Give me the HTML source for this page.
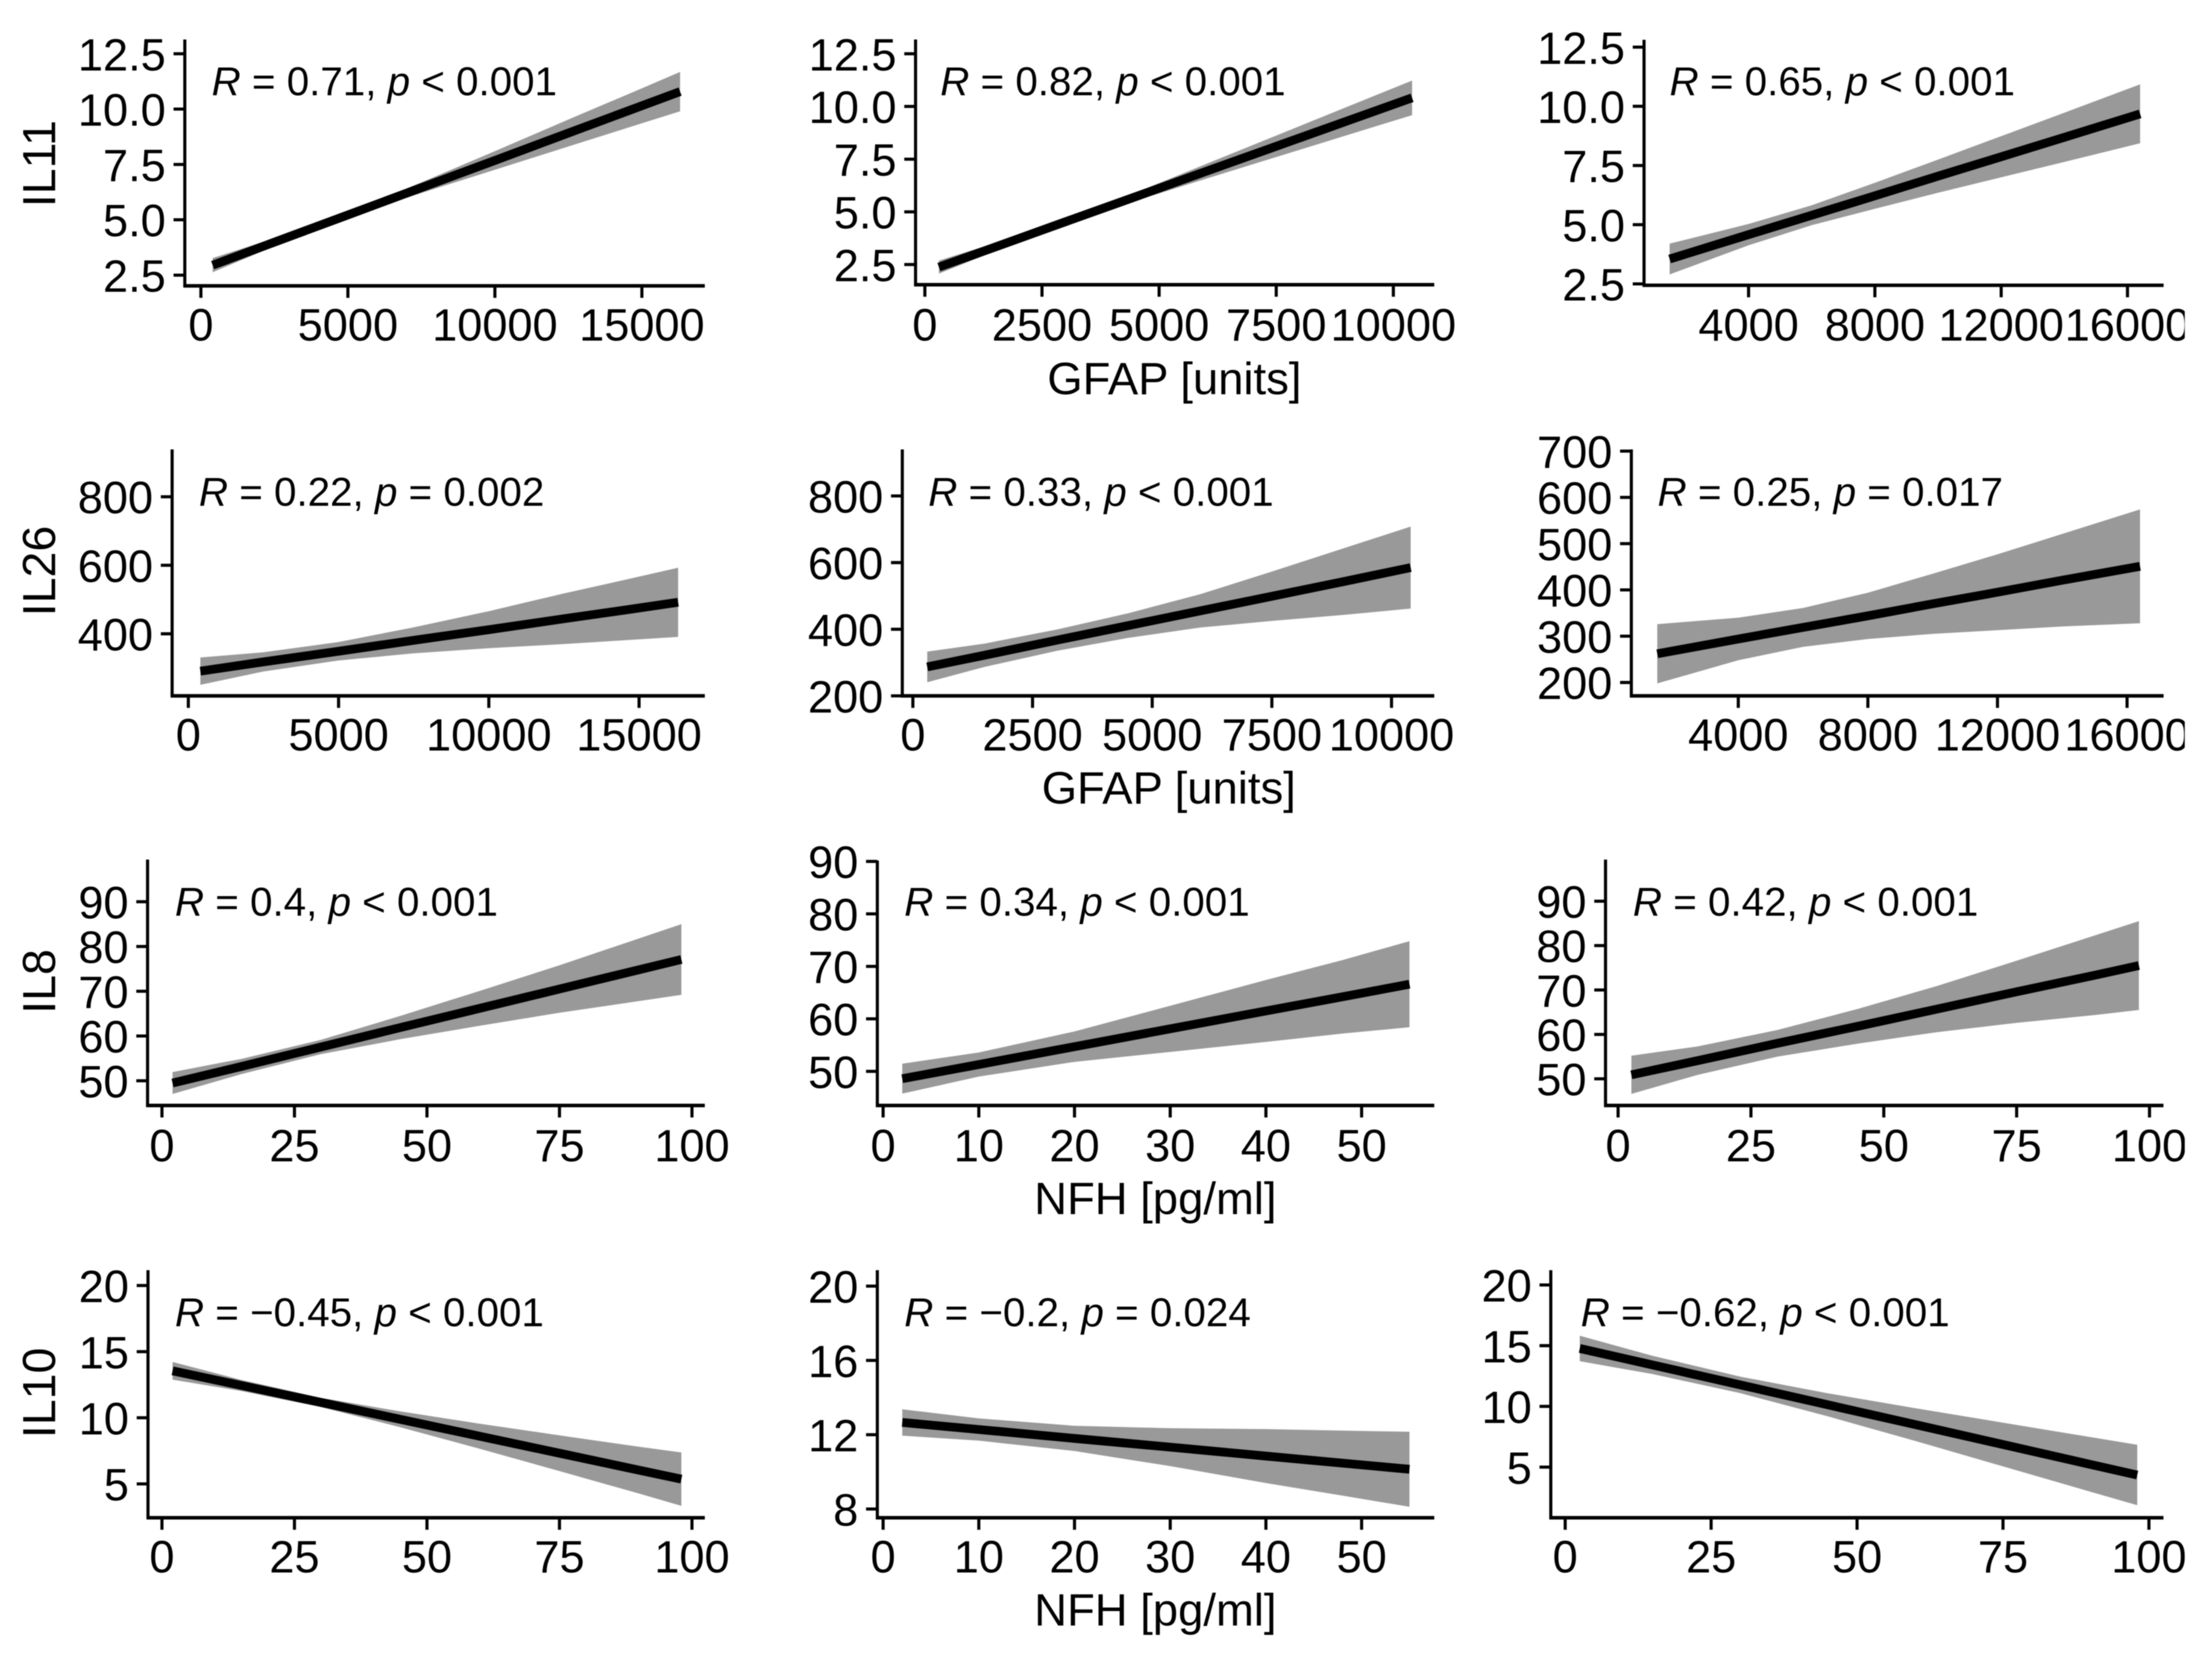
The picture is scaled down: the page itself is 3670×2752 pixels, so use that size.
<!DOCTYPE html>
<html lang="en">
<head>
<meta charset="utf-8">
<title>Correlation of interleukins with GFAP and NFH</title>
<style>
html,body{margin:0;padding:0;background:#fff;}
svg{display:block;width:3670px;height:2752px;filter:blur(0.8px);}
text{font-family:"Liberation Sans",Arial,sans-serif;fill:#000;}
</style>
</head>
<body>
<svg id="chart" xmlns="http://www.w3.org/2000/svg" viewBox="0 0 1568 1175.8"></svg>
<script>
/* ---------- data ---------- */
const p1XTicks=[0,5000,10000,15000];
const p1YTicks=[2.5,5,7.5,10,12.5];
const p1X=[400,2500,5000,7500,10000,12500,15000,16300];
const p1Fit=[2.95,3.99,5.22,6.45,7.68,8.92,10.15,10.79];
const p1Lo=[2.63,3.81,5.12,6.21,7.26,8.31,9.36,9.90];
const p1Hi=[3.27,4.17,5.32,6.69,8.10,9.53,10.94,11.68];

const p2XTicks=[0,2500,5000,7500,10000];
const p2YTicks=[2.5,5,7.5,10,12.5];
const p2X=[300,1500,3000,4500,6000,7500,9000,10400];
const p2Fit=[2.38,3.33,4.53,5.72,6.92,8.11,9.30,10.41];
const p2Lo=[2.07,3.14,4.43,5.53,6.57,7.60,8.63,9.59];
const p2Hi=[2.69,3.52,4.63,5.91,7.27,8.62,9.97,11.23];

const p3XTicks=[4000,8000,12000,16000];
const p3YTicks=[2.5,5,7.5,10,12.5];
const p3X=[1500,4000,6000,8000,10000,12000,14000,16400];
const p3Fit=[3.55,4.58,5.40,6.22,7.05,7.87,8.69,9.68];
const p3Lo=[2.90,4.13,4.98,5.67,6.35,7.00,7.65,8.44];
const p3Hi=[4.20,5.03,5.82,6.77,7.75,8.74,9.73,10.93];

const p4XTicks=[0,5000,10000,15000];
const p4YTicks=[400,600,800];
const p4X=[400,2500,5000,7500,10000,12500,14500,16300];
const p4Fit=[291,318,349,381,412,444,469,492];
const p4Lo=[251,290,322,343,358,370,381,391];
const p4Hi=[331,346,376,419,466,518,557,593];

const p5XTicks=[0,2500,5000,7500,10000];
const p5YTicks=[200,400,600,800];
const p5X=[300,1500,3000,4500,6000,7500,9000,10400];
const p5Fit=[287,322,367,411,455,499,543,585];
const p5Lo=[241,287,335,374,405,425,443,462];
const p5Hi=[333,357,399,448,505,573,643,708];

const p6XTicks=[4000,8000,12000,16000];
const p6YTicks=[200,300,400,500,600,700];
const p6X=[1500,4000,6000,8000,10000,12000,14000,16400];
const p6Fit=[262,294,319,344,370,395,421,451];
const p6Lo=[198,248,277,294,305,313,321,328];
const p6Hi=[326,340,361,394,435,477,521,574];

const p7XTicks=[0,25,50,75,100];
const p7YTicks=[50,60,70,80,90];
const p7X=[2,15,30,45,60,75,90,98];
const p7Fit=[49.5,53.2,57.55,61.9,66.2,70.5,74.8,77.1];
const p7Lo=[47.05,51.5,55.95,59.3,62.3,65.2,67.8,69.2];
const p7Hi=[51.95,54.9,59.15,64.5,70.1,75.8,81.8,85.0];

const p8XTicks=[0,10,20,30,40,50];
const p8YTicks=[50,60,70,80,90];
const p8X=[2,10,20,30,40,48,55];
const p8Fit=[48.6,51.3,54.7,58.1,61.5,64.2,66.6];
const p8Lo=[45.75,49.0,51.8,53.7,55.6,57.2,58.4];
const p8Hi=[51.45,53.6,57.6,62.5,67.4,71.2,74.8];

const p9XTicks=[0,25,50,75,100];
const p9YTicks=[50,60,70,80,90];
const p9X=[2.5,15,30,45,60,75,90,98];
const p9Fit=[50.9,54.1,58.0,61.8,65.7,69.6,73.4,75.5];
const p9Lo=[46.6,50.9,55,57.9,60.5,62.6,64.4,65.5];
const p9Hi=[55.2,57.3,61,65.7,70.9,76.6,82.4,85.5];

const p10XTicks=[0,25,50,75,100];
const p10YTicks=[5,10,15,20];
const p10X=[2,15,30,45,60,75,90,98];
const p10Fit=[13.55,12.44,11.16,9.88,8.60,7.32,6.04,5.36];
const p10Lo=[12.88,12.02,10.81,9.28,7.65,5.97,4.27,3.34];
const p10Hi=[14.22,12.86,11.51,10.48,9.55,8.67,7.81,7.38];

const p11XTicks=[0,10,20,30,40,50];
const p11YTicks=[8,12,16,20];
const p11X=[2,10,20,30,40,48,55];
const p11Fit=[12.66,12.28,11.80,11.33,10.85,10.47,10.14];
const p11Lo=[11.95,11.68,11.12,10.31,9.4,8.72,8.12];
const p11Hi=[13.37,12.88,12.48,12.35,12.3,12.22,12.16];

const p12XTicks=[0,25,50,75,100];
const p12YTicks=[5,10,15,20];
const p12X=[2.5,15,30,45,60,75,90,98];
const p12Fit=[14.77,13.41,11.77,10.13,8.50,6.86,5.22,4.35];
const p12Lo=[13.72,12.66,11.09,9.18,7.15,5.06,2.97,1.86];
const p12Hi=[15.82,14.16,12.45,11.08,9.85,8.66,7.47,6.84];

/* ---------- layout of each panel ---------- */
const panels=[
{id:'il11-gfap-a',xT:p1XTicks,yT:p1YTicks,x:p1X,fit:p1Fit,lo:p1Lo,hi:p1Hi,dec:1,axisX:131,right:499.6,top:28,bottom:202.6,xa:142.4,xb:455,ya:195,yb:38.1,r:'0.71',op:'<',pv:'0.001',ax:150,ay:67.5,lab:241.5},
{id:'il11-gfap-b',xT:p2XTicks,yT:p2YTicks,x:p2X,fit:p2Fit,lo:p2Lo,hi:p2Hi,dec:1,axisX:649,right:1016.7,top:28,bottom:201.8,xa:655.6,xb:987.7,ya:187.5,yb:38.1,r:'0.82',op:'<',pv:'0.001',ax:666.5,ay:67.5,lab:241.5},
{id:'il11-gfap-c',xT:p3XTicks,yT:p3YTicks,x:p3X,fit:p3Fit,lo:p3Lo,hi:p3Hi,dec:1,axisX:1165.4,right:1533.7,top:28.2,bottom:202.2,xa:1239.5,xb:1508.1,ya:201.2,yb:33.4,r:'0.65',op:'<',pv:'0.001',ax:1183.5,ay:67.5,lab:241.5},
{id:'il26-gfap-a',xT:p4XTicks,yT:p4YTicks,x:p4X,fit:p4Fit,lo:p4Lo,hi:p4Hi,dec:0,axisX:122,right:499.6,top:318.5,bottom:493.2,xa:133.5,xb:453,ya:449.2,yb:352.1,r:'0.22',op:'=',pv:'0.002',ax:141,ay:358.5,lab:532},
{id:'il26-gfap-b',xT:p5XTicks,yT:p5YTicks,x:p5X,fit:p5Fit,lo:p5Lo,hi:p5Hi,dec:0,axisX:639.6,right:1016.7,top:318.5,bottom:493.2,xa:647.1,xb:986.4,ya:493.2,yb:351.5,r:'0.33',op:'<',pv:'0.001',ax:658,ay:358.5,lab:532},
{id:'il26-gfap-c',xT:p6XTicks,yT:p6YTicks,x:p6X,fit:p6Fit,lo:p6Lo,hi:p6Hi,dec:0,axisX:1156.4,right:1533.7,top:318.5,bottom:493.2,xa:1232.2,xb:1507.8,ya:483.7,yb:319.7,r:'0.25',op:'=',pv:'0.017',ax:1175,ay:358.5,lab:532},
{id:'il8-nfh-a',xT:p7XTicks,yT:p7YTicks,x:p7X,fit:p7Fit,lo:p7Lo,hi:p7Hi,dec:0,axisX:104.6,right:499.6,top:609.2,bottom:783.5,xa:114.8,xb:490.5,ya:766,yb:639.1,r:'0.4',op:'<',pv:'0.001',ax:124,ay:649,lab:823},
{id:'il8-nfh-b',xT:p8XTicks,yT:p8YTicks,x:p8X,fit:p8Fit,lo:p8Lo,hi:p8Hi,dec:0,axisX:621.9,right:1016.7,top:609.9,bottom:783.5,xa:626,xb:965.2,ya:759.3,yb:610.5,r:'0.34',op:'<',pv:'0.001',ax:641,ay:649,lab:823},
{id:'il8-nfh-c',xT:p9XTicks,yT:p9YTicks,x:p9X,fit:p9Fit,lo:p9Lo,hi:p9Hi,dec:0,axisX:1138.1,right:1533.6,top:609.2,bottom:783.5,xa:1147,xb:1523.7,ya:764.6,yb:638.7,r:'0.42',op:'<',pv:'0.001',ax:1157.5,ay:649,lab:823},
{id:'il10-nfh-a',xT:p10XTicks,yT:p10YTicks,x:p10X,fit:p10Fit,lo:p10Lo,hi:p10Hi,dec:0,axisX:104.9,right:499.6,top:900.2,bottom:1075.7,xa:114.8,xb:490.5,ya:1051.7,yb:911.1,r:'\u22120.45',op:'<',pv:'0.001',ax:124,ay:940,lab:1114.5},
{id:'il10-nfh-b',xT:p11XTicks,yT:p11YTicks,x:p11X,fit:p11Fit,lo:p11Lo,hi:p11Hi,dec:0,axisX:621.9,right:1016.7,top:900.2,bottom:1075.7,xa:626,xb:965.2,ya:1069.5,yb:911.5,r:'\u22120.2',op:'=',pv:'0.024',ax:641,ay:940,lab:1114.5},
{id:'il10-nfh-c',xT:p12XTicks,yT:p12YTicks,x:p12X,fit:p12Fit,lo:p12Lo,hi:p12Hi,dec:0,axisX:1099.3,right:1533.6,top:900.2,bottom:1075.7,xa:1109.5,xb:1523.3,ya:1039.8,yb:910.7,r:'\u22120.62',op:'<',pv:'0.001',ax:1120.5,ay:940,lab:1114.5}
];
const yTitles=[{t:'IL11',y:116},{t:'IL26',y:404.7},{t:'IL8',y:695.6},{t:'IL10',y:987.2}];
const xTitles=[{t:'GFAP [units]',x:832.5,y:279.5},{t:'GFAP [units]',x:828.5,y:569.5},{t:'NFH [pg/ml]',x:819,y:860.5},{t:'NFH [pg/ml]',x:819,y:1152}];

const NS='http://www.w3.org/2000/svg';
const svg=document.getElementById('chart');
function mk(tag,parent,attrs,text){
  const e=document.createElementNS(NS,tag);
  for(const k in attrs)e.setAttribute(k,attrs[k]);
  if(text!==undefined)e.textContent=text;
  parent.appendChild(e);
  return e;
}
function linear(d0,d1,r0,r1){return v=>r0+(v-d0)*(r1-r0)/(d1-d0);}

panels.forEach(p=>{
  const g=mk('g',svg,{});
  
  
  const sx=linear(p.xT[0],p.xT[p.xT.length-1],p.xa,p.xb);
  const sy=linear(p.yT[0],p.yT[p.yT.length-1],p.ya,p.yb);

  const upper=p.x.map((v,i)=>sx(v).toFixed(2)+','+sy(p.hi[i]).toFixed(2));
  const lower=p.x.map((v,i)=>sx(v).toFixed(2)+','+sy(p.lo[i]).toFixed(2)).reverse();
  const band=mk('polygon',g,{points:upper.concat(lower).join(' '),fill:'#999999'});
  
  

  const fit=mk('polyline',g,{points:p.x.map((v,i)=>sx(v).toFixed(2)+','+sy(p.fit[i]).toFixed(2)).join(' '),fill:'none',stroke:'#000','stroke-width':6.2,'stroke-linejoin':'round'});
  
  

  const ya=mk('line',g,{x1:p.axisX,x2:p.axisX,y1:p.top,y2:p.bottom+1,stroke:'#000','stroke-width':2.2});
  
  
  const xa=mk('line',g,{x1:p.axisX-1,x2:p.right,y1:p.bottom,y2:p.bottom,stroke:'#000','stroke-width':2.5});
  
  

  p.yT.forEach(v=>{
    const y=sy(v);
    const t=mk('line',g,{x1:p.axisX-8,x2:p.axisX,y1:y,y2:y,stroke:'#000','stroke-width':2.2});
    
    
    const l=mk('text',g,{x:p.axisX-13.5,y:y+11.8,'text-anchor':'end','font-size':32},v.toFixed(p.dec));
    
    
  });
  p.xT.forEach(v=>{
    const x=sx(v);
    const t=mk('line',g,{x1:x,x2:x,y1:p.bottom,y2:p.bottom+8.5,stroke:'#000','stroke-width':2.2});
    
    
    const l=mk('text',g,{x:x,y:p.lab,'text-anchor':'middle','font-size':32},String(v));
    
    
  });

  const a=mk('text',g,{x:p.ax,y:p.ay,'font-size':28.6});
  
  
  mk('tspan',a,{'font-style':'italic'},'R');
  mk('tspan',a,{},' = '+p.r+', ');
  mk('tspan',a,{'font-style':'italic'},'p');
  mk('tspan',a,{},' '+p.op+' '+p.pv);
});

yTitles.forEach(o=>{
  const t=mk('text',svg,{transform:'translate(39,'+o.y+') rotate(-90)','text-anchor':'middle','font-size':33},o.t);
  
  
});
xTitles.forEach(o=>{
  const t=mk('text',svg,{x:o.x,y:o.y,'text-anchor':'middle','font-size':32.2},o.t);
  
  
});

const m=mk('rect',svg,{x:1548.7,y:0,width:20,height:1176,fill:'#fff'});


</script>
</body>
</html>
